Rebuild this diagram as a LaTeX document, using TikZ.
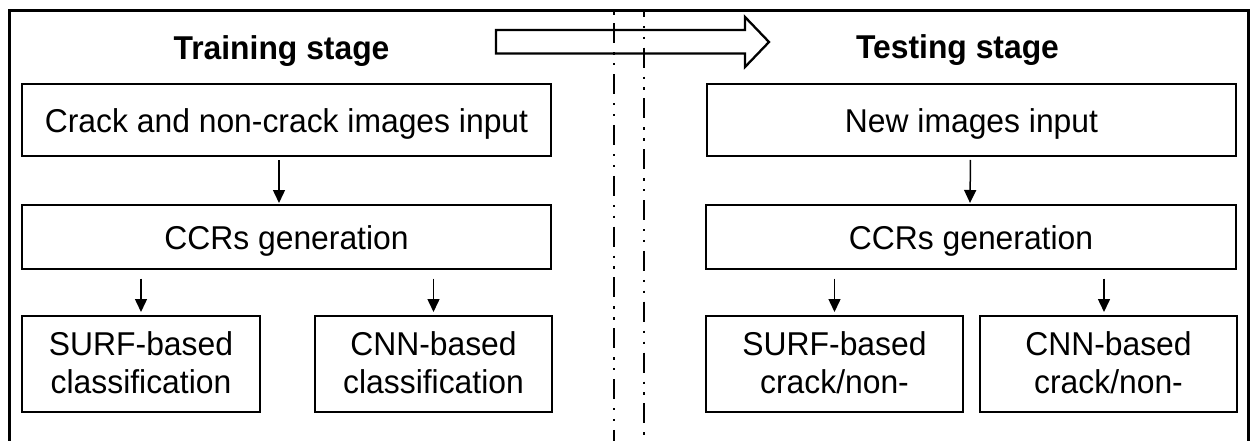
\documentclass[tikz,border=0pt]{standalone}
\usepackage{fontspec}
\setmainfont{Liberation Sans}[FakeStretch=0.965]
\usetikzlibrary{arrows.meta}
% one centred cell, aligned on the baseline of its last line
\newcommand{\cellstack}[1]{\begin{tabular}[b]{@{}c@{}}#1\end{tabular}}
\begin{document}
\begin{tikzpicture}[x=1pt,y=-1pt,
  box/.style={draw=black,line width=2.5pt,inner sep=0pt,outer sep=0pt,
    font=\fontsize{33}{38}\selectfont},
  oneline/.style={text height=24pt,text depth=0pt},
  twoline/.style={text height=58pt,text depth=0pt},
  flow/.style={line width=1.5pt,-{Triangle[width=12pt,length=13pt]}},
  stagetitle/.style={font=\fontsize{33}{38}\selectfont\bfseries,inner sep=0pt,anchor=base},
  divider/.style={line width=2.3pt,
    dash pattern=on 20pt off 9pt on 2.3pt off 8.5pt on 2.3pt off 8.7pt}]
\useasboundingbox (0,0) rectangle (1250,441);
\clip (0,0) rectangle (1250,441);

% dash-dot separators between the two stages
\begin{scope}
  \clip (0,10.5) rectangle (1250,441);
  \draw[divider] (614,-27.4) -- (614,470);
  \draw[divider] (644,-3.1) -- (644,470);
\end{scope}

% outer frame
\draw[line width=3pt] (9,470) -- (9,10.5) -- (1248.5,10.5) -- (1248.5,470);

% hollow arrow from training to testing
\draw[line width=2.3pt,line join=miter]
  (496,30) -- (745,30) -- (745,17) -- (769,42) -- (745,67) -- (745,53.5) -- (496,53.5) -- cycle;

% stage titles
\node[stagetitle] (ttrain) at (281.5,60) {Training stage};
\node[stagetitle] (ttest) at (957.5,59) {Testing stage};

% training column
\node[box,oneline,minimum width=529pt,minimum height=72pt] (in1) at (286.5,120)
  {\cellstack{Crack and non-crack images input}};
\node[box,oneline,minimum width=529pt,minimum height=64pt] (ccr1) at (286.5,237)
  {\cellstack{CCRs generation}};
\node[box,twoline,minimum width=238pt,minimum height=96pt] (surf1) at (141,364)
  {\cellstack{SURF-based\\classification}};
\node[box,twoline,minimum width=237pt,minimum height=96pt] (cnn1) at (433.5,364)
  {\cellstack{CNN-based\\classification}};

% testing column
\node[box,oneline,minimum width=529pt,minimum height=72pt] (in2) at (971.5,120)
  {\cellstack{New images input}};
\node[box,oneline,minimum width=530pt,minimum height=64pt] (ccr2) at (971,237)
  {\cellstack{CCRs generation}};
\node[box,twoline,minimum width=257pt,minimum height=96pt] (surf2) at (834.5,364)
  {\cellstack{SURF-based\\crack/non-}};
\node[box,twoline,minimum width=257pt,minimum height=96pt] (cnn2) at (1108.5,364)
  {\cellstack{CNN-based\\crack/non-}};

% flow arrows
\draw[flow,shorten <=4pt,shorten >=2pt] ([xshift=-7.5pt]in1.south) -- ([xshift=-7.5pt]ccr1.north);
\draw[flow,shorten <=4pt,shorten >=2pt] ([xshift=-1pt]in2.south) -- ([xshift=-1pt]ccr2.north);
\draw[flow,shorten <=9.5pt,shorten >=4pt] (ccr1.south -| surf1.north) -- (surf1.north);
\draw[flow,shorten <=9.5pt,shorten >=4pt] (ccr1.south -| cnn1.north) -- (cnn1.north);
\draw[flow,shorten <=9.5pt,shorten >=4pt] (ccr2.south -| surf2.north) -- (surf2.north);
\draw[flow,shorten <=9.5pt,shorten >=4pt] ([xshift=-4.5pt]ccr2.south -| cnn2.north) -- ([xshift=-4.5pt]cnn2.north);
\end{tikzpicture}
\end{document}
